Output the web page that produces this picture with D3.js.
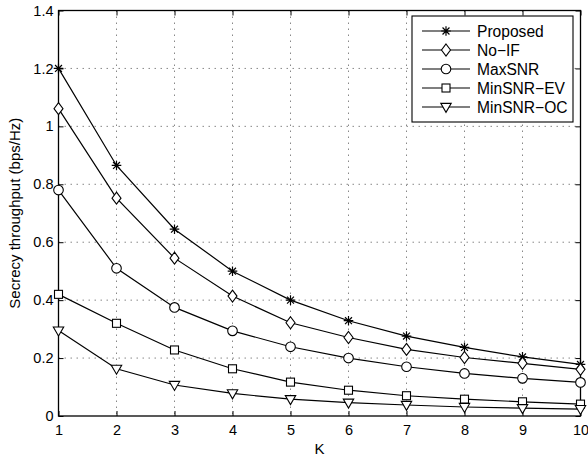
<!DOCTYPE html>
<html>
<head>
<meta charset="utf-8">
<script src="https://cdn.jsdelivr.net/npm/d3@7"></script>
<style>
  body { margin: 0; background: #fff; }
  svg { display: block; font-family: "Liberation Sans", Arial, sans-serif; }
  .grid line { stroke: #888; stroke-dasharray: 1.5,4.5; }
</style>
</head>
<body>
<svg id="chart" width="588" height="460"></svg>
<script>
// values
const kValues = [1, 2, 3, 4, 5, 6, 7, 8, 9, 10];
const proposed  = [1.2, 0.865, 0.645, 0.5, 0.4, 0.329, 0.276, 0.237, 0.204, 0.178];
const noIF      = [1.061, 0.752, 0.545, 0.414, 0.322, 0.271, 0.23, 0.202, 0.182, 0.161];
const maxSNR    = [0.78, 0.51, 0.375, 0.294, 0.239, 0.2, 0.17, 0.147, 0.13, 0.116];
const minSNREV  = [0.42, 0.32, 0.228, 0.163, 0.117, 0.089, 0.07, 0.058, 0.049, 0.041];
const minSNROC  = [0.295, 0.163, 0.107, 0.078, 0.058, 0.046, 0.038, 0.031, 0.027, 0.024];
const seriesNames = ["Proposed", "No\u2212IF", "MaxSNR", "MinSNR\u2212EV", "MinSNR\u2212OC"];
const markerTypes = ["star", "diamond", "circle", "square", "triangle"];
const yTicks = [0, 0.2, 0.4, 0.6, 0.8, 1, 1.2, 1.4];

const series = [proposed, noIF, maxSNR, minSNREV, minSNROC].map((vals, i) => ({
  name: seriesNames[i], marker: markerTypes[i], values: vals
}));

const svg = d3.select("#chart");
const pLeft = 58.5, pRight = 580.5, pTop = 10.5, pBottom = 416;

const x = d3.scaleLinear().domain([1, 10]).range([pLeft, pRight]);
const y = d3.scaleLinear().domain([0, 1.4]).range([pBottom, pTop]);

// grid
const grid = svg.append("g").attr("class", "grid");
grid.selectAll(".vx").data(kValues.slice(1, -1)).join("line")
  .attr("x1", d => x(d)).attr("x2", d => x(d)).attr("y1", pTop).attr("y2", pBottom);
grid.selectAll(".hy").data(yTicks.slice(1, -1)).join("line")
  .attr("y1", d => y(d)).attr("y2", d => y(d)).attr("x1", pLeft).attr("x2", pRight);

// axes (MATLAB-style ticks pointing inwards)
const axisStyle = g => {
  g.select(".domain").remove();
  g.selectAll(".tick line").attr("stroke", "#000");
  g.selectAll(".tick text").attr("font-size", 14.5).attr("fill", "#000")
    .attr("font-family", "Liberation Sans, Arial, sans-serif");
};
svg.append("g").attr("transform", `translate(0,${pBottom})`)
  .call(d3.axisBottom(x).tickValues(kValues).tickFormat(d3.format("d")).tickSizeInner(-5).tickPadding(9))
  .call(axisStyle);
svg.append("g").attr("transform", `translate(${pLeft},0)`)
  .call(d3.axisLeft(y).tickValues(yTicks).tickFormat(d => d === 0 ? "0" : d3.format("")(d)).tickSizeInner(-5).tickPadding(5))
  .call(axisStyle);
svg.append("g").attr("transform", `translate(0,${pTop})`)
  .call(d3.axisTop(x).tickValues(kValues).tickFormat("").tickSizeInner(-5))
  .call(axisStyle);
svg.append("g").attr("transform", `translate(${pRight},0)`)
  .call(d3.axisRight(y).tickValues(yTicks).tickFormat("").tickSizeInner(-5))
  .call(axisStyle);

svg.append("rect").attr("x", pLeft).attr("y", pTop)
  .attr("width", pRight - pLeft).attr("height", pBottom - pTop)
  .attr("fill", "none").attr("stroke", "#000").attr("stroke-width", 1.3);

// axis labels
svg.append("text").attr("x", (pLeft + pRight) / 2).attr("y", 454)
  .attr("text-anchor", "middle").attr("font-size", 15).text("K");
svg.append("text")
  .attr("transform", `translate(20,${(pTop + pBottom) / 2}) rotate(-90)`)
  .attr("text-anchor", "middle").attr("font-size", 15)
  .text("Secrecy throughput (bps/Hz)");

// marker drawing
function drawMarker(sel, type) {
  if (type === "star") {
    const r = 4.8, q = r * 0.72;
    sel.append("path")
      .attr("d", `M${-r},0H${r}M0,${-r}V${r}M${-q},${-q}L${q},${q}M${-q},${q}L${q},${-q}`)
      .attr("stroke", "#000").attr("stroke-width", 1.2).attr("fill", "none");
  } else if (type === "diamond") {
    sel.append("path").attr("d", "M0,-6L4.5,0L0,6L-4.5,0Z")
      .attr("fill", "#fff").attr("stroke", "#000").attr("stroke-width", 1.1);
  } else if (type === "circle") {
    sel.append("circle").attr("r", 4.8)
      .attr("fill", "#fff").attr("stroke", "#000").attr("stroke-width", 1.1);
  } else if (type === "square") {
    sel.append("rect").attr("x", -4).attr("y", -4).attr("width", 8).attr("height", 8)
      .attr("fill", "#fff").attr("stroke", "#000").attr("stroke-width", 1.1);
  } else if (type === "triangle") {
    sel.append("path").attr("d", "M-5.2,-3.6L5.2,-3.6L0,5.4Z")
      .attr("fill", "#fff").attr("stroke", "#000").attr("stroke-width", 1.1);
  }
}

const line = d3.line().x((d, i) => x(kValues[i])).y(d => y(d));
const plot = svg.append("g");
series.forEach(s => {
  plot.append("path").datum(s.values).attr("d", line)
    .attr("fill", "none").attr("stroke", "#000").attr("stroke-width", 1.2);
});
series.forEach(s => {
  plot.append("g").selectAll("g").data(s.values).join("g")
    .attr("transform", (d, i) => `translate(${x(kValues[i])},${y(d)})`)
    .each(function () { drawMarker(d3.select(this), s.marker); });
});

// legend
const lg = svg.append("g");
lg.append("rect").attr("x", 412).attr("y", 16).attr("width", 161).attr("height", 106)
  .attr("fill", "#fff").attr("stroke", "#000").attr("stroke-width", 1.1);
series.forEach((s, i) => {
  const ry = 31 + i * 19;
  lg.append("line").attr("x1", 422).attr("x2", 470).attr("y1", ry).attr("y2", ry)
    .attr("stroke", "#000").attr("stroke-width", 1.2);
  const m = lg.append("g").attr("transform", `translate(446,${ry})`);
  drawMarker(m, s.marker);
  lg.append("text").attr("x", 477).attr("y", ry + 5.5).attr("font-size", 15.6).text(s.name);
});
</script>
</body>
</html>
